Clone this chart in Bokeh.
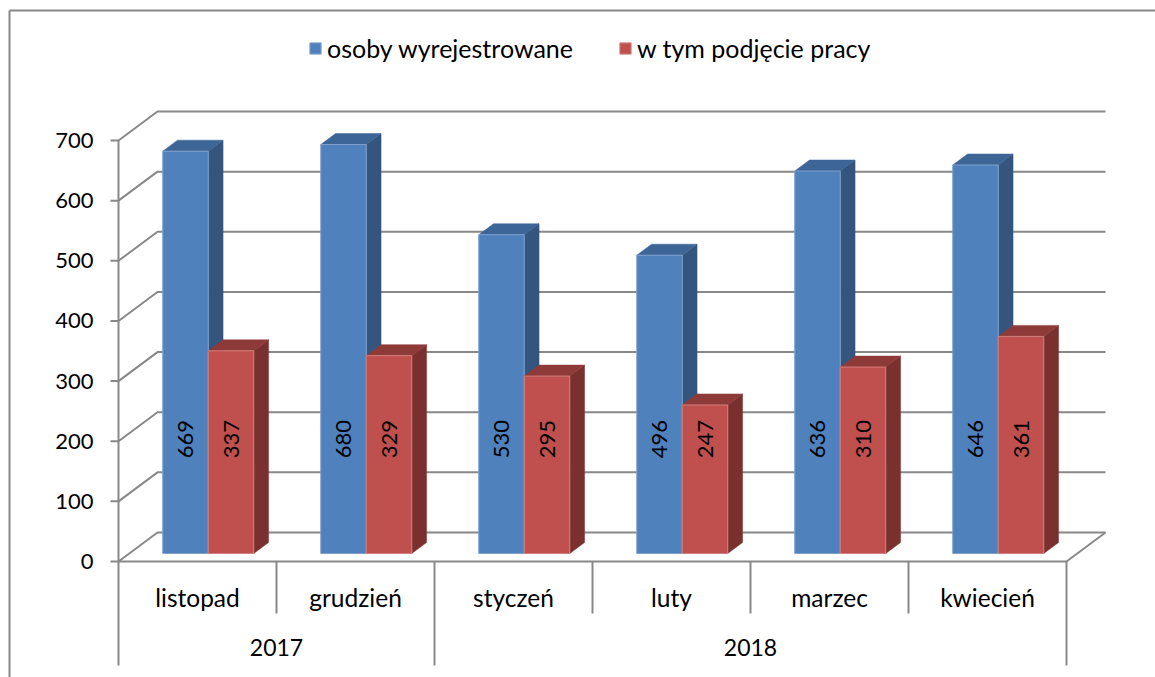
from bokeh.plotting import figure
from bokeh.models import Range1d, Legend, LegendItem, ColumnDataSource
from bokeh.embed import file_html
from bokeh.resources import INLINE
from bokeh.core.properties import value
import math

# ---------------- data ----------------
months = ["listopad", "grudzień", "styczeń", "luty", "marzec", "kwiecień"]
years = ["2017", "2018"]
year_counts = [2, 4]
series_names = ["osoby wyrejestrowane", "w tym podjęcie pracy"]
deregistered = [669, 680, 530, 496, 636, 646]
employment = [337, 329, 295, 247, 310, 361]
y_ticks = [0, 100, 200, 300, 400, 500, 600, 700]

# ---------------- layout / style constants ----------------
W, H = 1155, 677
ORIGIN_X, ORIGIN_Y = 118, 561      # px of (category 0, value 0), front plane
PX_CAT = 158                        # px per category
PX_VAL = 0.6014                     # px per value unit
DX = 39 / PX_CAT                    # full depth offset (x, category units)
DY = 29 / PX_VAL                    # full depth offset (y, value units)
BAR_D0, BAR_D1 = 0.276, 0.655       # bar front / back depth (fraction of full depth)
BAR_W = 45.5 / PX_CAT
LABEL_V = 190
FONT = "Lato"
GRID = "#888888"

def X(px):
    return (px - ORIGIN_X) / PX_CAT

def Y(py):
    return (ORIGIN_Y - py) / PX_VAL

p = figure(width=W, height=H, x_range=Range1d(X(0), X(W)), y_range=Range1d(Y(H), Y(0)),
           output_backend="svg", toolbar_location=None, min_border=0,
           x_axis_location=None, y_axis_location=None, outline_line_color=None,
           background_fill_color="white", border_fill_color="white")
p.outline_line_alpha = 0
p.xgrid.visible = False
p.ygrid.visible = False

n = len(months)

# outer chart border (top + left visible; right/bottom lie outside the view)
p.segment(x0=[X(9), X(9)], y0=[Y(10), Y(10)], x1=[X(W + 20), X(9)], y1=[Y(10), Y(H + 20)],
          line_color="#878787", line_width=2)

# walls: diagonals + back gridlines
gx, gy = [], []
for t in y_ticks:
    gx.append([X(ORIGIN_X - 8), 0, DX, n + DX])
    gy.append([t, t, t + DY, t + DY])
# front floor edge and right floor edge
gx.append([0, n, n + DX]); gy.append([0, 0, DY])
# front vertical value axis
gx.append([0, 0]); gy.append([0, y_ticks[-1]])
# category dividers
year_bounds = [0]
for c in year_counts:
    year_bounds.append(year_bounds[-1] + c)
for i in range(n + 1):
    bottom = Y(665) if i in year_bounds else Y(613)
    gx.append([i, i]); gy.append([0, bottom])
p.multi_line(xs=gx, ys=gy, line_color=GRID, line_width=2)

# ---------------- 3D bars ----------------
def faces(x0, x1, v):
    b = BAR_D0 * DY
    fx, fy = [x0 + BAR_D0 * DX, x1 + BAR_D0 * DX], b
    ox, oy = (BAR_D1 - BAR_D0) * DX, (BAR_D1 - BAR_D0) * DY
    front = ([fx[0], fx[1], fx[1], fx[0]], [fy, fy, fy + v, fy + v])
    top = ([fx[0], fx[1], fx[1] + ox, fx[0] + ox], [fy + v, fy + v, fy + v + oy, fy + v + oy])
    side = ([fx[1], fx[1] + ox, fx[1] + ox, fx[1]], [fy, fy + oy, fy + v + oy, fy + v])
    return front, top, side

series = [
    (deregistered, -1, "#4F81BD", "#3D6596", "#34557E", "#7EA1CC"),
    (employment, 0, "#C0504D", "#8E3A38", "#7A302E", "#D27F7D"),
]
front_renderers = []
label_x, label_y, label_t = [], [], []
for vals, off, c_front, c_top, c_side, c_edge in series:
    F, T, S = {"xs": [], "ys": []}, {"xs": [], "ys": []}, {"xs": [], "ys": []}
    for i, v in enumerate(vals):
        x0 = i + 0.5 + off * BAR_W
        x1 = x0 + BAR_W
        f, t, s = faces(x0, x1, v)
        for d, face in ((F, f), (T, t), (S, s)):
            d["xs"].append(face[0]); d["ys"].append(face[1])
        label_x.append((x0 + x1) / 2 + BAR_D0 * DX)
        label_y.append(LABEL_V + BAR_D0 * DY)
        label_t.append(str(v))
    p.patches(xs="xs", ys="ys", source=ColumnDataSource(S), fill_color=c_side, line_color=c_side, line_width=0.5)
    p.patches(xs="xs", ys="ys", source=ColumnDataSource(T), fill_color=c_top, line_color=c_top, line_width=0.5)
    r = p.patches(xs="xs", ys="ys", source=ColumnDataSource(F), fill_color=c_front, line_color=c_edge, line_width=1)
    front_renderers.append(r)

# value labels (rotated)
p.text(x=label_x, y=label_y, text=label_t, angle=math.pi / 2, text_align="center",
       text_baseline="middle", text_font=value(FONT), text_font_size="22px", text_color="black")

# y tick labels
p.text(x=[X(93)] * len(y_ticks), y=y_ticks, text=[str(t) for t in y_ticks],
       text_align="right", text_baseline="middle", text_font=value(FONT),
       text_font_size="22px", text_color="black")

# month labels
p.text(x=[i + 0.5 for i in range(n)], y=[Y(597)] * n, text=months, text_align="center",
       text_baseline="middle", text_font=value(FONT), text_font_size="24.5px", text_color="black")

# year labels
yx = [(year_bounds[k] + year_bounds[k + 1]) / 2 for k in range(len(years))]
p.text(x=yx, y=[Y(647)] * len(years), text=years, text_align="center",
       text_baseline="middle", text_font=value(FONT), text_font_size="23px", text_color="black")

# legend
legend = Legend(items=[LegendItem(label=series_names[k], renderers=[front_renderers[k]]) for k in range(2)],
                orientation="horizontal", location=(308, 614), border_line_color=None,
                background_fill_alpha=0, padding=0, margin=0, spacing=45,
                glyph_width=14, glyph_height=14, label_standoff=5,
                label_text_font=FONT, label_text_font_size="25px", label_text_color="black")
p.add_layout(legend)

open("out.html", "w").write(file_html(p, INLINE))
